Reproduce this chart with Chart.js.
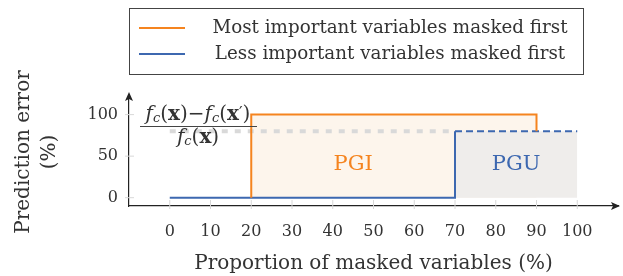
<!DOCTYPE html>
<html>
<head>
<meta charset="utf-8">
<script src="https://cdn.jsdelivr.net/npm/chart.js@4.4.0/dist/chart.umd.min.js"></script>
<style>
  html, body { margin: 0; padding: 0; background: #fff; }
  #wrap { width: 623px; height: 276px; position: relative; }
</style>
</head>
<body>
<div id="wrap"><canvas id="chart" width="623" height="276"></canvas></div>
<script>
// tick values
const xTicks = [0, 10, 20, 30, 40, 50, 60, 70, 80, 90, 100];
const yTicks = [0, 50, 100];

// most important masked first (orange step)
const mostX = [20, 20, 90, 90];
const mostY = [0, 100, 100, 80];

// less important masked first (blue step + dashed tail)
const lessX = [0, 70, 70];
const lessY = [0, 0, 80];
const lessDashX = [70, 100];
const lessDashY = [80, 80];

// reference level (gray dashed)
const refX = [0, 70];
const refY = [80, 80];

const legendLabels = ['Most important variables masked first', 'Less important variables masked first'];
const areaLabels = [{ text: 'PGI', x: 45, y: 40 }, { text: 'PGU', x: 85, y: 40 }];

const ORANGE = '#f5841f';
const BLUE = '#3d68b0';
const SERIF = '"DejaVu Serif", serif';

const pts = (xs, ys) => xs.map((x, i) => ({ x: x, y: ys[i] }));

// legend box, fraction label, arrows, area labels
const decor = {
    id: 'decor',
    afterDraw(chart) {
        const ctx = chart.ctx;
        const area = chart.chartArea;
        const xs = chart.scales.x;
        const ys = chart.scales.y;
        ctx.save();

        // faint tick marks on axes
        ctx.strokeStyle = '#d8d8d8';
        ctx.lineWidth = 1;
        xTicks.forEach(v => {
            const px = xs.getPixelForValue(v);
            ctx.beginPath(); ctx.moveTo(px, area.bottom - 6); ctx.lineTo(px, area.bottom + 3); ctx.stroke();
        });
        yTicks.forEach(v => {
            const py = ys.getPixelForValue(v);
            ctx.beginPath(); ctx.moveTo(area.left - 4, py); ctx.lineTo(area.left + 5, py); ctx.stroke();
        });

        // arrow heads
        ctx.fillStyle = '#222';
        ctx.beginPath();
        ctx.moveTo(area.left, area.top - 6);
        ctx.lineTo(area.left - 4, area.top + 3);
        ctx.lineTo(area.left, area.top + 1);
        ctx.lineTo(area.left + 4, area.top + 3);
        ctx.closePath(); ctx.fill();
        ctx.beginPath();
        ctx.moveTo(area.right + 2, area.bottom);
        ctx.lineTo(area.right - 7, area.bottom - 4);
        ctx.lineTo(area.right - 5, area.bottom);
        ctx.lineTo(area.right - 7, area.bottom + 4);
        ctx.closePath(); ctx.fill();

        // PGI / PGU labels
        ctx.font = '21px ' + SERIF;
        ctx.textAlign = 'center';
        ctx.textBaseline = 'middle';
        ctx.fillStyle = ORANGE;
        ctx.fillText(areaLabels[0].text, xs.getPixelForValue(areaLabels[0].x), ys.getPixelForValue(areaLabels[0].y));
        ctx.fillStyle = BLUE;
        ctx.fillText(areaLabels[1].text, xs.getPixelForValue(areaLabels[1].x), ys.getPixelForValue(areaLabels[1].y));

        // fraction (f_c(x) - f_c(x')) / f_c(x)
        const it = 'italic 20px ' + SERIF;
        const sub = 'italic 13px ' + SERIF;
        const rm = '20px ' + SERIF;
        const bf = 'bold 20px ' + SERIF;
        const fcx = [[it, 'f', 0], [sub, 'c', 4], [rm, '(', 0], [bf, 'x', 0], [rm, ')', 0]];
        const num = fcx.concat([[rm, '\u2212', 0], [it, 'f', 0], [sub, 'c', 4], [rm, '(', 0], [bf, 'x', 0], ['16px ' + SERIF, '\u2032', -1], [rm, ')', 0]]);
        const runWidth = runs => runs.reduce((w, r) => { ctx.font = r[0]; return w + ctx.measureText(r[1]).width; }, 0);
        const drawRuns = (runs, cx, cy) => {
            let x = cx - runWidth(runs) / 2;
            ctx.textAlign = 'left';
            runs.forEach(r => {
                ctx.font = r[0];
                ctx.fillText(r[1], x, cy + r[2]);
                x += ctx.measureText(r[1]).width;
            });
        };
        ctx.fillStyle = '#333';
        ctx.textBaseline = 'middle';
        const fx = 198;
        drawRuns(num, fx, 115);
        drawRuns(fcx, fx, 138);
        ctx.strokeStyle = '#444';
        ctx.lineWidth = 1;
        ctx.beginPath(); ctx.moveTo(140, 126.5); ctx.lineTo(257, 126.5); ctx.stroke();

        // legend box
        ctx.strokeStyle = '#444';
        ctx.lineWidth = 1;
        ctx.strokeRect(129.5, 8.5, 454, 66);
        [[ORANGE, 28], [BLUE, 54]].forEach((c, i) => {
            ctx.strokeStyle = c[0];
            ctx.lineWidth = 2;
            ctx.beginPath(); ctx.moveTo(139, c[1]); ctx.lineTo(185, c[1]); ctx.stroke();
            ctx.fillStyle = '#333';
            ctx.font = '18.3px ' + SERIF;
            ctx.textAlign = 'center';
            ctx.fillText(legendLabels[i], 390, c[1]);
        });
        ctx.restore();
    }
};

new Chart(document.getElementById('chart'), {
    type: 'line',
    data: {
        datasets: [
            { data: pts(mostX, mostY), borderColor: ORANGE, borderWidth: 2, fill: false, order: 0 },
            { data: pts(lessX, lessY), borderColor: BLUE, borderWidth: 2, fill: false, order: 1 },
            { data: pts(lessDashX, lessDashY), borderColor: BLUE, borderWidth: 2, borderDash: [7, 4], fill: false, order: 2 },
            { data: pts(refX, refY), borderColor: '#d9d9d9', borderWidth: 4, borderDash: [6, 7], fill: false, order: 3 },
            { data: pts(lessDashX, lessDashY), borderWidth: 0, borderColor: 'rgba(0,0,0,0)', backgroundColor: '#efedeb', fill: 'origin', order: 4 },
            { data: pts(mostX, mostY), borderWidth: 0, borderColor: 'rgba(0,0,0,0)', backgroundColor: '#fdf5ec', fill: 'origin', order: 5 }
        ]
    },
    options: {
        responsive: false,
        animation: false,
        layout: { padding: { top: 98, right: 5, left: 0, bottom: 0 } },
        elements: { point: { radius: 0 }, line: { tension: 0 } },
        plugins: { legend: { display: false }, tooltip: { enabled: false } },
        scales: {
            x: {
                type: 'linear',
                min: -10,
                max: 110,
                afterBuildTicks: s => { s.ticks = xTicks.map(v => ({ value: v })); },
                afterFit: s => { s.height = 70; },
                grid: { display: false, drawTicks: false },
                border: { display: true, color: '#222', width: 1.2 },
                ticks: { color: '#333', font: { family: SERIF, size: 16 }, padding: 16, maxRotation: 0 },
                title: { display: true, text: 'Proportion of masked variables (%)', color: '#333', font: { family: SERIF, size: 20 }, padding: 0 }
            },
            y: {
                min: -10,
                max: 120,
                afterBuildTicks: s => { s.ticks = yTicks.map(v => ({ value: v })); },
                afterFit: s => { s.width = 129; },
                grid: { display: false, drawTicks: false },
                border: { display: true, color: '#222', width: 1.2 },
                ticks: { color: '#333', font: { family: SERIF, size: 16 }, padding: 11 },
                title: { display: true, text: ['Prediction error', '(%)'], color: '#333', font: { family: SERIF, size: 20, lineHeight: 1.3 }, padding: { top: 11, bottom: 0 } }
            }
        }
    },
    plugins: [decor]
});
</script>
</body>
</html>
